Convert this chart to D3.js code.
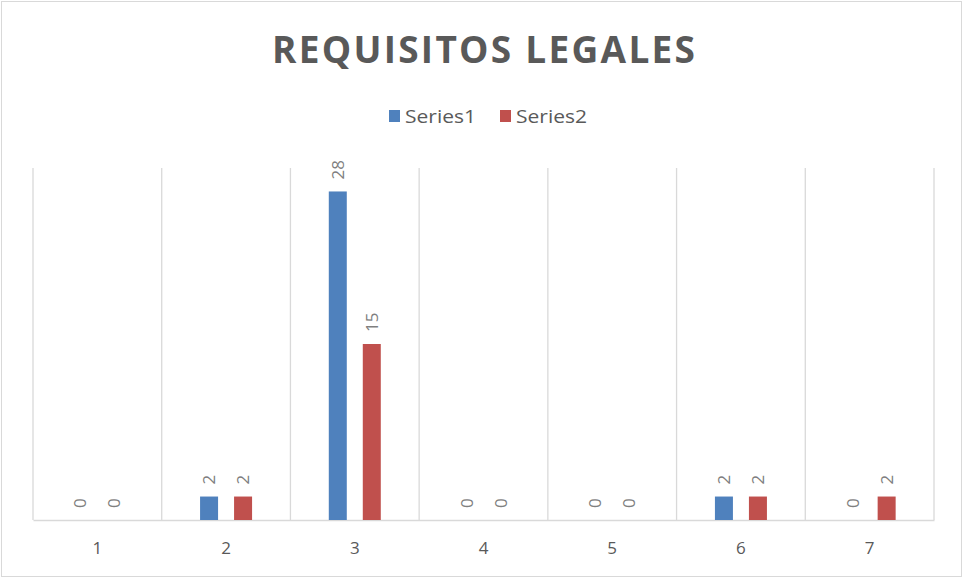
<!DOCTYPE html>
<html>
<head>
<meta charset="utf-8">
<script src="https://cdn.jsdelivr.net/npm/d3@7"></script>
<style>
  body { margin: 0; background: #fff; }
  svg { display: block; font-family: "Open Sans", "Liberation Sans", sans-serif; }
</style>
</head>
<body>
<svg id="chart" width="963" height="578"></svg>
<script>
var categories = ["1", "2", "3", "4", "5", "6", "7"];
var seriesNames = ["Series1", "Series2"];
var series1 = [0, 2, 28, 0, 0, 2, 0];
var series2 = [0, 2, 15, 0, 0, 2, 2];
var colors = ["#4F81BD", "#C0504D"];

var margin = {top: 168, right: 29, bottom: 58, left: 33},
    width = 963 - margin.left - margin.right,
    height = 578 - margin.top - margin.bottom;

var svg = d3.select("#chart");

// chart border
svg.append("rect")
  .attr("x", 1.5).attr("y", 1.5)
  .attr("width", 960).attr("height", 575)
  .attr("fill", "#fff")
  .attr("stroke", "#d9d9d9");

svg.append("text")
  .attr("x", 272).attr("y", 63)
  .attr("font-size", 37)
  .attr("font-weight", 700)
  .attr("textLength", 423)
  .attr("lengthAdjust", "spacing")
  .attr("fill", "#595959")
  .text("REQUISITOS LEGALES");

// legend
var legendX = [389, 500];
seriesNames.forEach(function(name, i) {
  svg.append("rect")
    .attr("x", legendX[i]).attr("y", 110)
    .attr("width", 11).attr("height", 12)
    .attr("fill", colors[i]);
  svg.append("text")
    .attr("x", legendX[i] + 16).attr("y", 123)
    .attr("font-size", 19)
    .attr("textLength", 71)
    .attr("lengthAdjust", "spacingAndGlyphs")
    .attr("fill", "#595959")
    .text(name);
});

var g = svg.append("g")
  .attr("transform", "translate(" + margin.left + "," + margin.top + ")");

var x = d3.scaleBand()
  .domain(categories)
  .range([0, width]);

var x1 = d3.scaleBand()
  .domain(seriesNames)
  .range([x.bandwidth() / 2 - 34, x.bandwidth() / 2 + 34]);

var y = d3.scaleLinear()
  .domain([0, 30])
  .range([height, 0]);

// vertical gridlines between categories
var edges = categories.map(function(c) { return x(c); }).concat([width]);
g.selectAll(".grid")
  .data(edges)
  .enter().append("line")
  .attr("x1", function(d) { return d; })
  .attr("x2", function(d) { return d; })
  .attr("y1", 0)
  .attr("y2", height)
  .attr("stroke", "#d9d9d9")
  .attr("stroke-width", 1.3);

var xAxis = d3.axisBottom(x).tickSize(0).tickPadding(22);
var ax = g.append("g")
  .attr("transform", "translate(0," + height + ")")
  .call(xAxis);
ax.select(".domain").attr("stroke", "#d9d9d9").attr("stroke-width", 1.5);
ax.selectAll("text")
  .attr("font-size", 17)
  .attr("fill", "#595959")
  .attr("font-family", "'Open Sans', sans-serif");

var data = categories.map(function(c, i) {
  return {cat: c, vals: [series1[i], series2[i]]};
});

var grp = g.selectAll(".cat")
  .data(data)
  .enter().append("g")
  .attr("class", "cat")
  .attr("transform", function(d) { return "translate(" + x(d.cat) + ",0)"; });

var bw = 18;
grp.selectAll("rect")
  .data(function(d) { return d.vals.map(function(v, i) { return {v: v, s: seriesNames[i], i: i}; }); })
  .enter().append("rect")
  .attr("x", function(d) { return x1(d.s) + x1.bandwidth() / 2 - bw / 2; })
  .attr("width", bw)
  .attr("y", function(d) { return y(d.v); })
  .attr("height", function(d) { return height - y(d.v); })
  .attr("fill", function(d) { return colors[d.i]; });

grp.selectAll(".lbl")
  .data(function(d) { return d.vals.map(function(v, i) { return {v: v, s: seriesNames[i], i: i}; }); })
  .enter().append("text")
  .attr("class", "lbl")
  .attr("transform", function(d) {
    var cx = x1(d.s) + x1.bandwidth() / 2 + 6;
    return "translate(" + cx + "," + (y(d.v) - 12) + ") rotate(-90)";
  })
  .attr("font-size", 17)
  .attr("fill", "#7f7f7f")
  .text(function(d) { return d.v; });
</script>
</body>
</html>
